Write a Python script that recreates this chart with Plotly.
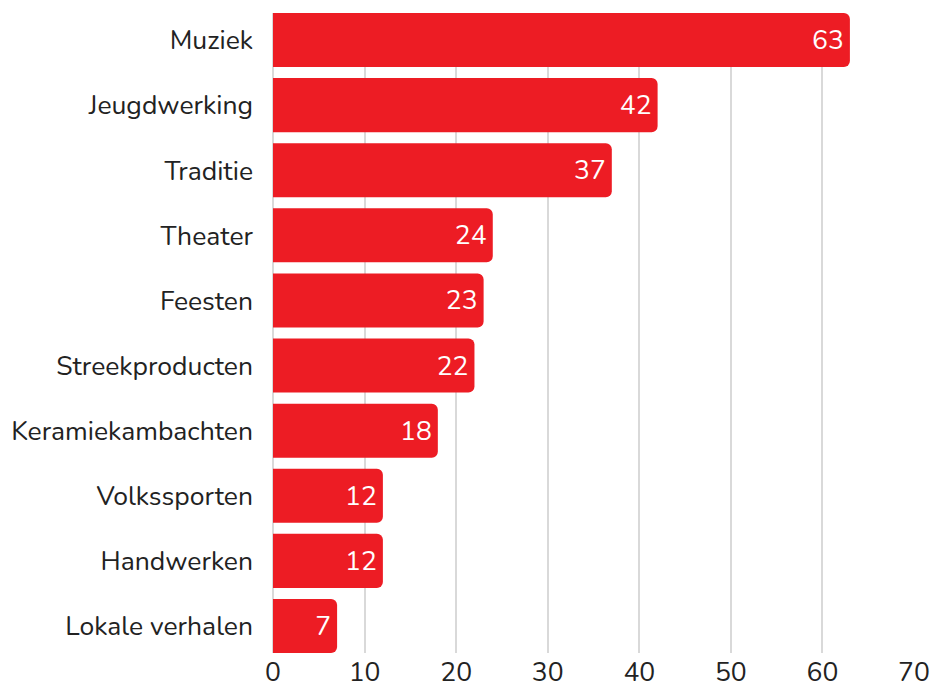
import plotly.graph_objects as go

categories = ["Muziek", "Jeugdwerking", "Traditie", "Theater", "Feesten",
              "Streekproducten", "Keramiekambachten", "Volkssporten",
              "Handwerken", "Lokale verhalen"]
values = [63, 42, 37, 24, 23, 22, 18, 12, 12, 7]
tick_vals = [0, 10, 20, 30, 40, 50, 60, 70]

FONT = "Nunito, Lato, sans-serif"
FS = 26.5
GAP = 0.17

fig = go.Figure(go.Bar(
    x=values, y=categories, orientation="h",
    marker=dict(color="#ED1C24", cornerradius=6, line=dict(width=0)),
    text=[str(v) for v in values], textposition="inside",
    insidetextanchor="end",
    textfont=dict(color="white", size=FS, family=FONT),
    cliponaxis=False,
))
n = len(categories)
fig.update_layout(
    width=931, height=687,
    margin=dict(l=273, r=17, t=13, b=34, autoexpand=False),
    paper_bgcolor="white", plot_bgcolor="white",
    bargap=GAP, showlegend=False,
    font=dict(family=FONT, size=FS, color="#222"),
    uniformtext=dict(minsize=FS, mode="show"),
)
fig.update_xaxes(range=[0, 70], tickvals=tick_vals, showgrid=True,
                 gridcolor="#d9d9d9", gridwidth=1.5, zeroline=True,
                 zerolinecolor="#d9d9d9", zerolinewidth=1.5,
                 tickfont=dict(size=FS), ticks="", automargin=False,
                 ticklabelstandoff=0, fixedrange=True)
fig.update_yaxes(range=[n - 0.5 - GAP / 2, -0.5 + GAP / 2], ticks="",
                 ticklen=0, tickfont=dict(size=FS), automargin=False,
                 ticklabelstandoff=19, fixedrange=True)
fig.write_html(
    "out.html",
    config={"displayModeBar": False},
    post_script="document.body.style.margin='0';document.body.style.overflow='hidden';",
)
